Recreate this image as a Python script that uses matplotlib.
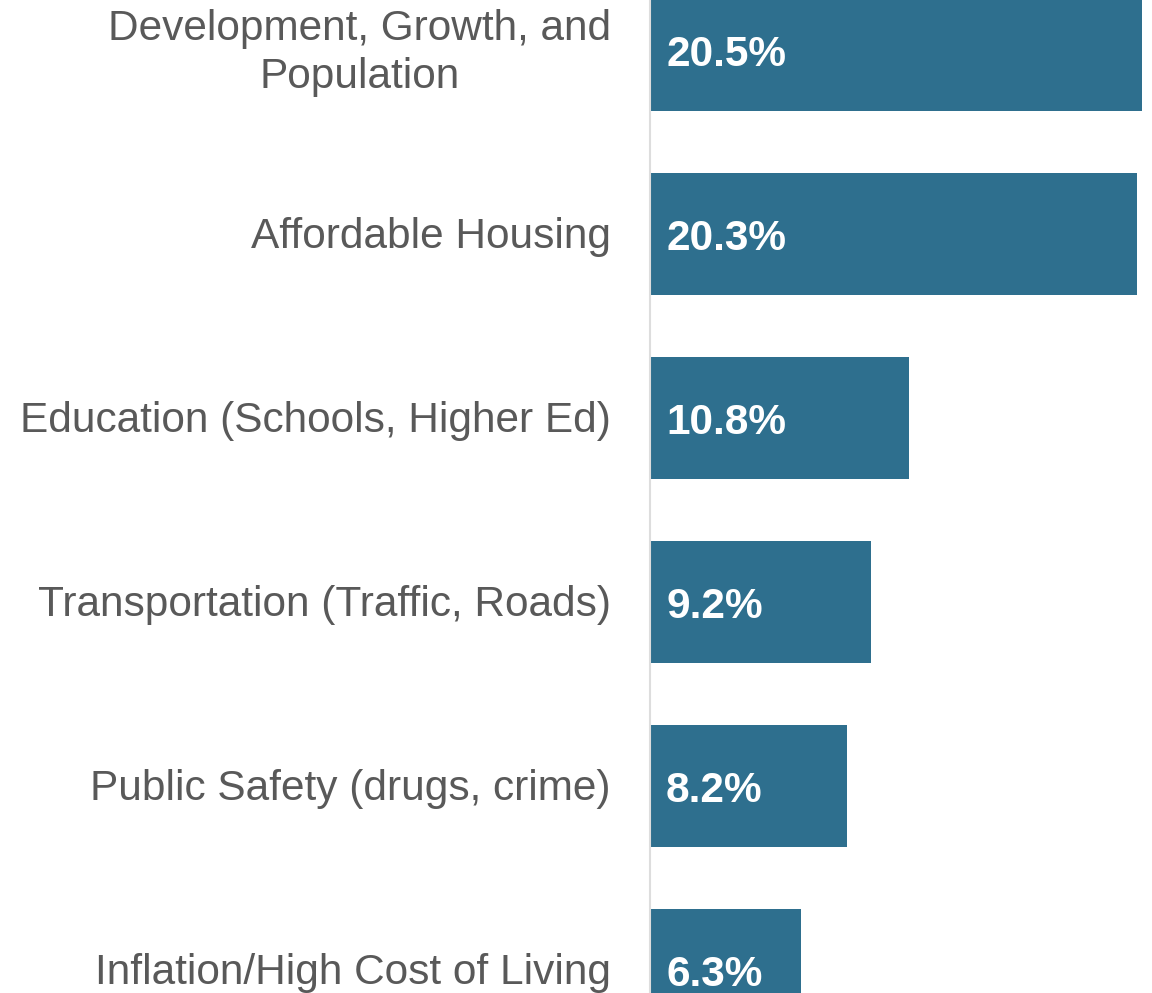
import matplotlib.pyplot as plt

categories = [
    "Development, Growth, and\nPopulation",
    "Affordable Housing",
    "Education (Schools, Higher Ed)",
    "Transportation (Traffic, Roads)",
    "Public Safety (drugs, crime)",
    "Inflation/High Cost of Living",
]
values = [20.5, 20.3, 10.8, 9.2, 8.2, 6.3]

BAR_COLOR = "#2e6f8e"
LABEL_COLOR = "#595959"
PX = 0.72  # points per pixel at dpi 100

plt.rcParams["font.family"] = ["Liberation Sans", "DejaVu Sans"]

fig = plt.figure(figsize=(11.52, 9.93), dpi=100)
ax = fig.add_axes([650 / 1152, 0, 502 / 1152, 1])

ypos = list(range(len(categories)))
ax.barh(ypos, values, height=122 / 184, color=BAR_COLOR)

ax.set_xlim(0, 502 / 24)
ax.set_ylim((993 - 50) / 184, -50 / 184)

# value labels inside the bars
for y, v in zip(ypos, values):
    ax.annotate(f"{v:.1f}%", xy=(0, y), xycoords=("axes fraction", "data"),
                xytext=(16 * PX, -5 * PX), textcoords="offset points",
                color="white", fontsize=30.5, fontweight="bold",
                va="center", ha="left")

# category labels left of the axis
for y, lab in zip(ypos, categories):
    ax.annotate(lab, xy=(0, y), xycoords=("axes fraction", "data"),
                xytext=(-39 * PX, -3 * PX), textcoords="offset points",
                ha="right", va="center", multialignment="center",
                fontsize=30.5, color=LABEL_COLOR, linespacing=1.25)

for s in ["top", "right", "bottom"]:
    ax.spines[s].set_visible(False)
ax.spines["left"].set_color("#dddddd")
ax.spines["left"].set_linewidth(1.5)
ax.set_xticks([])
ax.set_yticks([])

fig.savefig("out.png", dpi=100)
